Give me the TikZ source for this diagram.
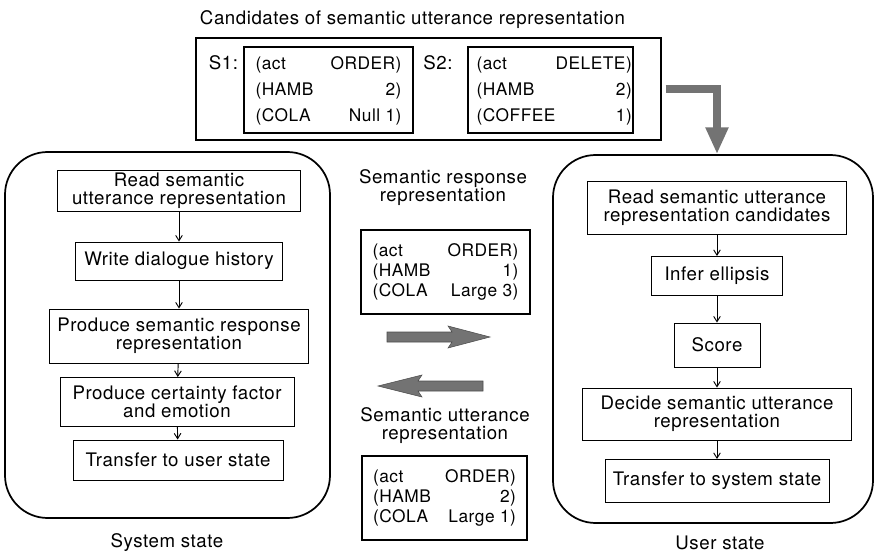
\documentclass[tikz,border=0pt]{standalone}
\usepackage{fontspec}
\setmainfont{TeX Gyre Heros}[LetterSpace=3]
\usetikzlibrary{arrows.meta}
\begin{document}
\begin{tikzpicture}[x=0.75pt,y=-0.75pt,
  font=\fontsize{14}{13.5}\selectfont,
  bigbox/.style={draw, line width=1.3pt, rounded corners=32pt, inner sep=0pt},
  procbox/.style={draw, line width=0.7pt, align=center, inner sep=2pt},
  databox/.style={draw, line width=0.8pt, inner sep=0pt},
  flow/.style={line width=0.7pt, -{Straight Barb[length=4pt,width=5pt]}},
  fat/.style={fill=black!55, draw=black!70, line width=0.4pt},
  lbl/.style={align=center, inner sep=0pt}
]
\useasboundingbox (0,0) rectangle (875,560);

% top candidates
\node[lbl] (title) at (412.5,20) {Candidates of semantic utterance representation};
\node[databox, minimum width=348.75pt, minimum height=76.5pt] (cand) at (428.5,89) {};
\node[lbl] (s1lab) at (223.5,63) {S1:};
\node[lbl] (s2lab) at (438,63) {S2:};
\node[databox, minimum width=126.75pt, minimum height=64.5pt, font=\fontsize{13}{19.5}\selectfont] (s1) at (328.5,90)
  {\begin{tabular*}{109.5pt}{@{}l@{\extracolsep{\fill}}r@{}}(act & ORDER)\\(HAMB & 2)\\(COLA & Null 1)\end{tabular*}};
\node[databox, minimum width=123.75pt, minimum height=64.5pt, font=\fontsize{13}{19.5}\selectfont] (s2) at (550.5,90)
  {\begin{tabular*}{111pt}{@{}l@{\extracolsep{\fill}}r@{}}(act & DELETE)\\(HAMB & 2)\\(COFFEE & 1)\end{tabular*}};

% big state boxes
\node[bigbox, minimum width=243.75pt, minimum height=274.5pt] (sys) at (167.5,335) {};
\node[bigbox, minimum width=240pt, minimum height=276pt] (usr) at (713,339) {};
\node[lbl] (syslab) at (167,543) {System state};
\node[lbl] (usrlab) at (720,543) {User state};

% system state steps
\node[procbox, minimum width=182.25pt, minimum height=28.5pt] (L1) at (179,191) {Read semantic\\utterance representation};
\node[procbox, minimum width=155.25pt, minimum height=28.5pt] (L2) at (179,261) {Write dialogue history};
\node[procbox, minimum width=194.25pt, minimum height=40.5pt] (L3) at (179,336) {Produce semantic response\\representation};
\node[procbox, minimum width=175.5pt, minimum height=36.75pt] (L4) at (177,402) {Produce certainty factor\\and emotion};
\node[procbox, minimum width=157.5pt, minimum height=30pt] (L5) at (178,460) {Transfer to user state};
\draw[flow] (L1) -- (L2);
\draw[flow] (L2) -- (L3);
\draw[flow] (L3) -- (L4);
\draw[flow] (L4) -- (L5);

% user state steps
\node[procbox, minimum width=194.25pt, minimum height=39.75pt] (R1) at (717,208) {Read semantic utterance\\representation candidates};
\node[procbox, minimum width=98.25pt, minimum height=29.25pt] (R2) at (717,276) {Infer ellipsis};
\node[procbox, minimum width=64.5pt, minimum height=33pt] (R3) at (717,345) {Score};
\node[procbox, minimum width=201.75pt, minimum height=39pt] (R4) at (717,414) {Decide semantic utterance\\representation};
\node[procbox, minimum width=168pt, minimum height=32.25pt] (R5) at (717,481) {Transfer to system state};
\draw[flow] (R1) -- (R2);
\draw[flow] (R2) -- (R3);
\draw[flow] (R3) -- (R4);
\draw[flow] (R4) -- (R5);

% middle
\node[lbl] (resplab) at (443,188) {Semantic response\\representation};
\node[databox, minimum width=126.75pt, minimum height=63pt, font=\fontsize{13}{15}\selectfont] (resp) at (445.5,272)
  {\begin{tabular*}{109.5pt}{@{}l@{\extracolsep{\fill}}r@{}}(act & ORDER)\\(HAMB & 1)\\(COLA & Large 3)\end{tabular*}};
\node[lbl] (uttlab) at (445,426) {Semantic utterance\\representation};
\node[databox, minimum width=123.75pt, minimum height=63pt, font=\fontsize{13}{15}\selectfont] (utt) at (444.5,498)
  {\begin{tabular*}{107.25pt}{@{}l@{\extracolsep{\fill}}r@{}}(act & ORDER)\\(HAMB & 2)\\(COLA & Large 1)\end{tabular*}};

% fat arrows
\fill[fat] (387,332) -- (452,332) -- (448,326) -- (490,337) -- (448,348) -- (452,342) -- (387,342) -- cycle;
\fill[fat] (483,381) -- (418,381) -- (422,375) -- (378,386) -- (422,397) -- (418,391) -- (483,391) -- cycle;
\draw[line width=6pt, draw=black!55, shorten <=3pt, -{Triangle[length=20pt,width=16pt]}] (cand.east) -| (R1.north |- usr.north);
\end{tikzpicture}
\end{document}
